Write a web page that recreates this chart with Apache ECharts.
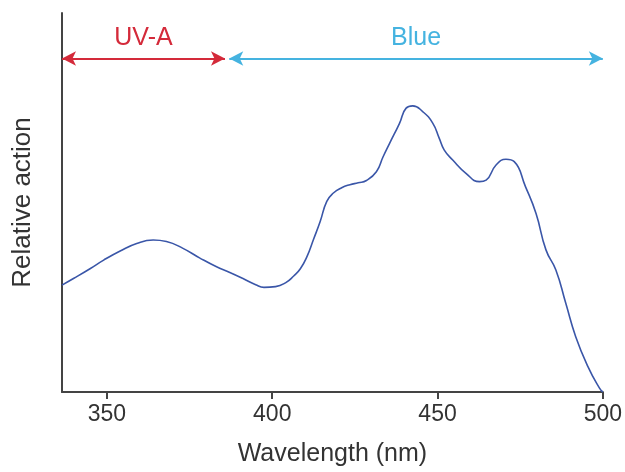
<!DOCTYPE html>
<html>
<head>
<meta charset="utf-8">
<script src="https://cdn.jsdelivr.net/npm/echarts@6/dist/echarts.min.js"></script>
<style>html,body{margin:0;padding:0;background:#fff}#c{width:625px;height:472px}</style>
</head>
<body>
<div id="c"></div>
<script>
// Wavelength (nm) and relative action
const wavelength = [336.4,340,345,349,354,359,364,368,373,378,383,387,391,395,397.5,401,404,406.5,408.5,410.5,412.5,414.5,416.5,418.5,421,423.5,426,428.5,431.5,433.5,435.5,438.5,440.5,442.5,445.5,448.5,450.5,452,454.6,458.6,462.7,464.7,467.7,470.7,473.2,476.6,479.8,482.8,485.8,488.8,491.8,495.5,499,500];
const action = [28.2,30.0,32.6,34.8,37.2,39.2,40.1,39.7,37.9,35.4,33.1,31.6,30.0,28.3,27.6,27.8,28.8,30.6,32.5,35.7,40.3,45.0,50.3,52.5,53.9,54.7,55.2,55.8,58.1,62.0,65.6,70.9,74.9,75.5,74.0,71.0,67.0,63.9,61.2,57.7,55.5,55.9,59.9,61.4,60.8,54.2,47.1,37.5,32.2,23.4,14.6,6.7,1.0,0];
const xTicks = [350,400,450,500];
const bandNames = ['UV-A','Blue'];
const bandStart = [336.4,387];
const bandEnd = [385.7,500];
const bandLevel = 88;

const chart = echarts.init(document.getElementById('c'));
const font = 'Liberation Sans, Arial, Helvetica, sans-serif';
const colors = ['#d42a3a','#45b3e0'];
chart.setOption({
  animation:false,
  grid:{left:62,right:22,top:13,bottom:80},
  xAxis:{
    type:'value', min:336.4, max:500,
    name:'Wavelength (nm)', nameLocation:'middle', nameGap:50,
    nameTextStyle:{fontFamily:font,fontSize:25,color:'#333'},
    axisLine:{lineStyle:{color:'#444',width:2}},
    axisTick:{show:true,length:7,lineStyle:{color:'#444',width:2},customValues:xTicks},
    axisLabel:{fontFamily:font,fontSize:23,color:'#333',margin:11,customValues:xTicks},
    splitLine:{show:false}
  },
  yAxis:{
    type:'value', min:0, max:100,
    name:'Relative action', nameLocation:'middle', nameGap:26,
    nameTextStyle:{fontFamily:font,fontSize:26,color:'#333'},
    axisLine:{show:true,lineStyle:{color:'#444',width:2}},
    axisTick:{show:false}, axisLabel:{show:false}, splitLine:{show:false}
  },
  series:[
    {
      type:'line', smooth:0.5, showSymbol:false,
      data: wavelength.map((w,i)=>[w,action[i]]),
      lineStyle:{color:'#3a56a8',width:1.6},
      markLine:{
        silent:true, symbol:['arrow','arrow'], symbolSize:[11,14],
        data: bandNames.map((n,i)=>[
          {coord:[bandStart[i],bandLevel], lineStyle:{color:colors[i],width:2,type:'solid'},
           label:{show:true,position:'middle',formatter:n,color:colors[i],fontFamily:font,fontSize:25,distance:8},
           itemStyle:{color:colors[i]}},
          {coord:[bandEnd[i],bandLevel]}
        ])
      }
    }
  ]
});
</script>
</body>
</html>
